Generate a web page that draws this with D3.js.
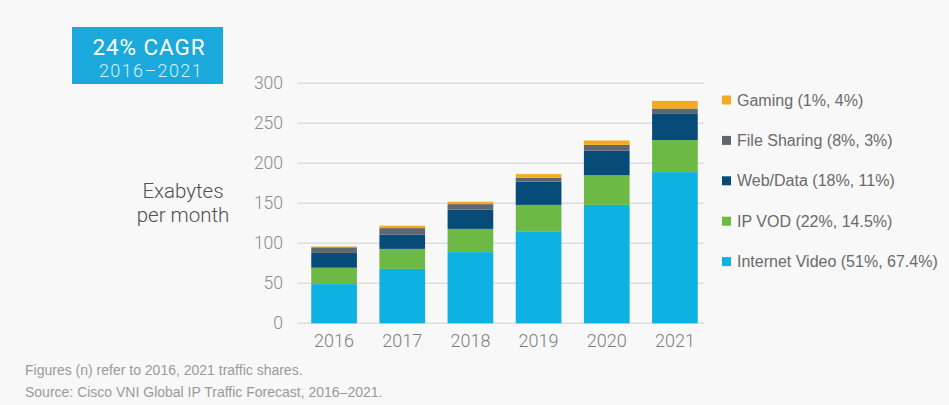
<!DOCTYPE html>
<html>
<head>
<meta charset="utf-8">
<script src="https://cdn.jsdelivr.net/npm/d3@7"></script>
<style>
  body { margin: 0; background: #f8f8f8; }
  svg { display: block; }
</style>
</head>
<body>
<div id="chart"></div>
<script>
const svgWidth = 949;
const svgHeight = 405;

// data (exabytes per month)
const years = ["2016", "2017", "2018", "2019", "2020", "2021"];
const internetVideo = [49, 68, 89, 115, 148, 189];
const ipVod = [20.5, 25, 29, 33, 37, 40];
const webData = [18.5, 18, 24, 29, 31, 33.5];
const fileSharing = [7, 8, 7, 5, 7, 6];
const gaming = [1, 3, 3, 4.5, 5.5, 9.5];

const seriesNames = ["Internet Video", "IP VOD", "Web/Data", "File Sharing", "Gaming"];
const legendLabels = ["Gaming (1%, 4%)", "File Sharing (8%, 3%)", "Web/Data (18%, 11%)",
    "IP VOD (22%, 14.5%)", "Internet Video (51%, 67.4%)"];
const yTicks = [0, 50, 100, 150, 200, 250, 300];

const colors = {
    "Internet Video": "#0db1e2",
    "IP VOD": "#6cba45",
    "Web/Data": "#074b78",
    "File Sharing": "#5c676f",
    "Gaming": "#f3aa1f"
};

const rows = years.map((y, i) => ({
    year: y,
    "Internet Video": internetVideo[i],
    "IP VOD": ipVod[i],
    "Web/Data": webData[i],
    "File Sharing": fileSharing[i],
    "Gaming": gaming[i]
}));

const svg = d3.select("#chart")
    .append("svg")
    .attr("width", svgWidth)
    .attr("height", svgHeight);

svg.append("rect")
    .attr("width", svgWidth)
    .attr("height", svgHeight)
    .attr("fill", "#f8f8f8");

const x = d3.scaleBand()
    .domain(years)
    .range([300, 709])
    .paddingInner(0.33)
    .paddingOuter(0.165);

const y = d3.scaleLinear()
    .domain([0, 300])
    .range([323.3, 83.3]);

// gridlines
svg.append("g")
    .selectAll("line")
    .data(yTicks)
    .join("line")
    .attr("x1", 298)
    .attr("x2", 704)
    .attr("y1", d => y(d))
    .attr("y2", d => y(d))
    .attr("stroke", "#dedede")
    .attr("stroke-width", 1.6);

// y axis labels
const yAxis = svg.append("g")
    .attr("transform", "translate(290,0)")
    .call(d3.axisLeft(y).tickValues(yTicks).tickSize(0).tickPadding(7));
yAxis.select(".domain").remove();
yAxis.selectAll("text")
    .attr("font-family", "Roboto")
    .attr("font-weight", 300)
    .attr("font-size", 17.5)
    .attr("fill", "#8c8c8c");

// x axis labels
const xAxis = svg.append("g")
    .attr("transform", `translate(0, ${y(0)})`)
    .call(d3.axisBottom(x).tickSize(0).tickPadding(11));
xAxis.select(".domain").remove();
xAxis.selectAll("text")
    .attr("font-family", "Roboto")
    .attr("font-weight", 300)
    .attr("font-size", 18)
    .attr("fill", "#7d7d7d");

// stacked bars
const stack = d3.stack().keys(seriesNames);
const stacked = stack(rows);

svg.append("g")
    .selectAll("g")
    .data(stacked)
    .join("g")
    .attr("fill", d => colors[d.key])
    .selectAll("rect")
    .data(d => d)
    .join("rect")
    .attr("x", d => x(d.data.year))
    .attr("width", x.bandwidth())
    .attr("y", d => y(d[1]))
    .attr("height", d => y(d[0]) - y(d[1]));

// y title
svg.append("text")
    .attr("x", 183)
    .attr("y", 198)
    .attr("text-anchor", "middle")
    .attr("font-family", "Roboto")
    .attr("font-weight", 300)
    .attr("font-size", 20.5)
    .attr("fill", "#505050")
    .selectAll("tspan")
    .data(["Exabytes", "per month"])
    .join("tspan")
    .attr("x", 183)
    .attr("dy", (d, i) => i === 0 ? 0 : 23.5)
    .text(d => d);

// CAGR box
svg.append("rect")
    .attr("x", 72)
    .attr("y", 27)
    .attr("width", 151)
    .attr("height", 57)
    .attr("fill", "#1ba8da");

svg.append("text")
    .attr("x", 149)
    .attr("y", 55)
    .attr("text-anchor", "middle")
    .attr("font-family", "Roboto")
    .attr("font-weight", 400)
    .attr("font-size", 22.5)
    .attr("letter-spacing", 0.9)
    .attr("fill", "#ffffff")
    .text("24% CAGR");

svg.append("text")
    .attr("x", 151)
    .attr("y", 77)
    .attr("text-anchor", "middle")
    .attr("font-family", "Roboto")
    .attr("font-weight", 300)
    .attr("font-size", 18)
    .attr("letter-spacing", 1.4)
    .attr("fill", "#d6f0fa")
    .text("2016\u20132021");

// legend
const legend = svg.append("g")
    .selectAll("g")
    .data(legendLabels)
    .join("g")
    .attr("transform", (d, i) => `translate(722, ${100 + i * 40.4})`);

legend.append("rect")
    .attr("x", 0)
    .attr("y", -4.5)
    .attr("width", 9)
    .attr("height", 9)
    .attr("fill", (d, i) => colors[seriesNames[seriesNames.length - 1 - i]]);

legend.append("text")
    .attr("x", 15)
    .attr("dy", "0.35em")
    .attr("font-family", "Liberation Sans")
    .attr("font-size", 16)
    .attr("fill", "#6a6a6a")
    .text(d => d);

// footnotes
svg.append("g")
    .selectAll("text")
    .data(["Figures (n) refer to 2016, 2021 traffic shares.",
        "Source: Cisco VNI Global IP Traffic Forecast, 2016\u20132021."])
    .join("text")
    .attr("x", 25)
    .attr("y", (d, i) => 375 + i * 21.5)
    .attr("font-family", "Liberation Sans")
    .attr("font-size", 14)
    .attr("fill", "#9a9a9a")
    .text(d => d);
</script>
</body>
</html>
